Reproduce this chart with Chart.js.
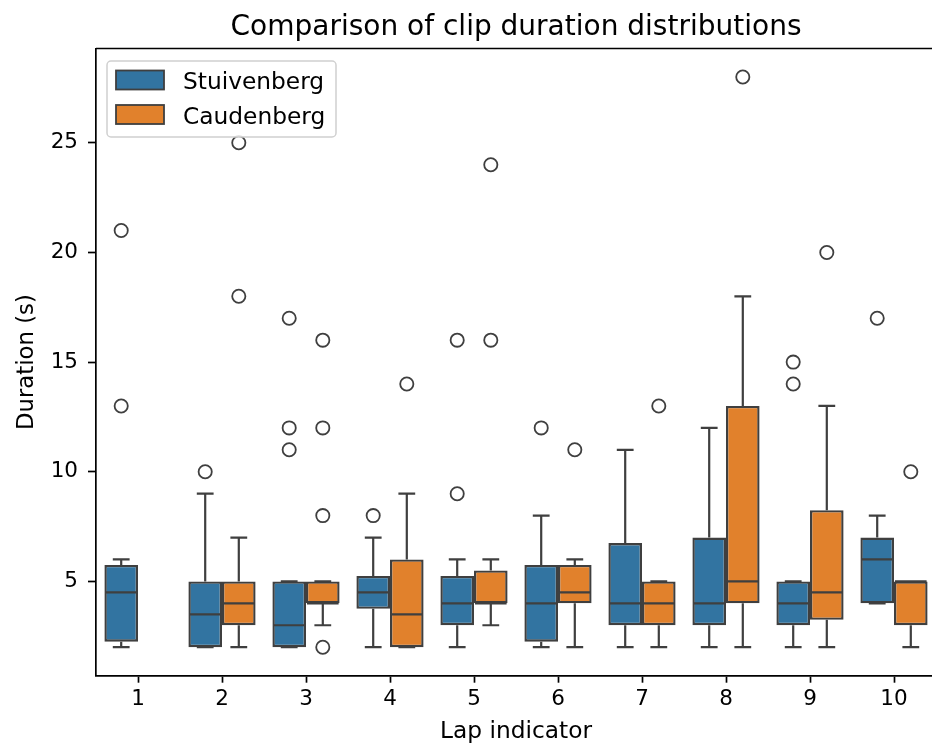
<!DOCTYPE html>
<html>
<head>
<meta charset="utf-8">
<script src="https://cdn.jsdelivr.net/npm/chart.js@4.4.1/dist/chart.umd.min.js"></script>
<style>
  html, body { margin: 0; padding: 0; overflow: hidden; background: #fff; }
  #wrap { width: 936px; height: 746px; }
</style>
</head>
<body>
<div id="wrap"><canvas id="chart" width="936" height="746"></canvas></div>
<script>
// Lap categories and tick values
const laps = ['1', '2', '3', '4', '5', '6', '7', '8', '9', '10'];
const yTicks = [5, 10, 15, 20, 25];

// Stuivenberg box stats
const stuivQ1     = [2.25, 2,   2, 3.75, 3,    2.25, 3,    3,  3, 4];
const stuivMedian = [4.5,  3.5, 3, 4.5,  4,    4,    4,    4,  4, 6];
const stuivQ3     = [5.75, 5,   5, 5.25, 5.25, 5.75, 6.75, 7,  5, 7];
const stuivLow    = [2,    2,   2, 2,    2,    2,    2,    2,  2, 4];
const stuivHigh   = [6,    9,   5, 7,    6,    8,    11,   12, 5, 8];
const stuivOutliers = [[13, 21], [10], [11, 12, 17], [8], [9, 16], [12], [], [], [14, 15], [17]];

// Caudenberg box stats (no data for lap 1)
const caudQ1     = [null, 3, 4, 2,   4,   4,    3, 4,  3.25, 3];
const caudMedian = [null, 4, 4, 3.5, 4,   4.5,  4, 5,  4.5,  5];
const caudQ3     = [null, 5, 5, 6,   5.5, 5.75, 5, 13, 8.25, 5];
const caudLow    = [null, 2, 3, 2,   3,   2,    2, 2,  2,    2];
const caudHigh   = [null, 7, 5, 9,   6,   6,    5, 18, 13,   5];
const caudOutliers = [[], [18, 25], [2, 8, 12, 16], [14], [16, 24], [11], [13], [28], [20], [10]];

const lineColor = '#3F3F3F';
const fontFamily = "'DejaVu Sans', sans-serif";

// whiskers, medians, fliers on top of the floating bars
const boxExtras = {
  id: 'boxExtras',
  afterDatasetsDraw(chart) {
    const ctx = chart.ctx;
    const yScale = chart.scales.y;
    ctx.save();
    ctx.strokeStyle = lineColor;
    chart.data.datasets.forEach((ds, di) => {
      const meta = chart.getDatasetMeta(di);
      const st = ds.stats;
      meta.data.forEach((bar, i) => {
        if (st.median[i] == null) return;
        const { x, width } = bar.getProps(['x', 'width'], true);
        const left = x - width / 2, right = x + width / 2;
        const cap = width / 4;
        const yq1 = yScale.getPixelForValue(st.q1[i]);
        const yq3 = yScale.getPixelForValue(st.q3[i]);
        const ylo = yScale.getPixelForValue(st.low[i]);
        const yhi = yScale.getPixelForValue(st.high[i]);
        const ymed = yScale.getPixelForValue(st.median[i]);

        ctx.lineWidth = 2.2;
        ctx.beginPath();
        // whiskers
        ctx.moveTo(x, yq3); ctx.lineTo(x, yhi);
        ctx.moveTo(x, yq1); ctx.lineTo(x, ylo);
        // caps
        ctx.moveTo(x - cap, yhi); ctx.lineTo(x + cap, yhi);
        ctx.moveTo(x - cap, ylo); ctx.lineTo(x + cap, ylo);
        // median
        ctx.moveTo(left + 1, ymed); ctx.lineTo(right - 1, ymed);
        ctx.stroke();

        // outliers
        ctx.lineWidth = 1.8;
        st.outliers[i].forEach(v => {
          ctx.beginPath();
          ctx.arc(x, yScale.getPixelForValue(v), 6.6, 0, Math.PI * 2);
          ctx.stroke();
        });
      });
    });
    ctx.restore();
  },
  afterDraw(chart) {
    const ctx = chart.ctx;
    const area = chart.chartArea;
    ctx.save();
    // top spine
    ctx.strokeStyle = '#000';
    ctx.lineWidth = 1.7;
    ctx.beginPath();
    ctx.moveTo(area.left, area.top);
    ctx.lineTo(area.right, area.top);
    ctx.stroke();

    // title centred on the plot area
    ctx.fillStyle = '#000';
    ctx.font = '28px ' + fontFamily;
    ctx.textAlign = 'center';
    ctx.textBaseline = 'alphabetic';
    ctx.fillText('Comparison of clip duration distributions', (area.left + area.right) / 2, 35);

    // legend inside the axes, upper left
    ctx.beginPath();
    ctx.roundRect(107, 61, 229, 76, 4);
    ctx.fillStyle = 'rgba(255,255,255,0.8)';
    ctx.fill();
    ctx.strokeStyle = '#d0d0d0';
    ctx.lineWidth = 1.5;
    ctx.stroke();

    ctx.font = '23.3px ' + fontFamily;
    ctx.textAlign = 'left';
    chart.data.datasets.forEach((ds, di) => {
      const top = 70.5 + di * 34.5;
      ctx.fillStyle = ds.backgroundColor;
      ctx.fillRect(116, top, 48, 19);
      ctx.strokeStyle = lineColor;
      ctx.lineWidth = 1.8;
      ctx.strokeRect(116, top, 48, 19);
      ctx.fillStyle = '#000';
      ctx.fillText(ds.label, 183, top + 18.5);
    });
    ctx.restore();
  }
};

function makeDataset(label, color, q1, median, q3, low, high, outliers) {
  return {
    label: label,
    data: q1.map((v, i) => v == null ? null : [v, q3[i]]),
    backgroundColor: color,
    borderColor: lineColor,
    borderWidth: 2.4,
    borderSkipped: false,
    categoryPercentage: 0.8,
    barPercentage: 1.0,
    stats: { q1: q1, median: median, q3: q3, low: low, high: high, outliers: outliers }
  };
}

new Chart(document.getElementById('chart'), {
  type: 'bar',
  data: {
    labels: laps,
    datasets: [
      makeDataset('Stuivenberg', '#3274A1', stuivQ1, stuivMedian, stuivQ3, stuivLow, stuivHigh, stuivOutliers),
      makeDataset('Caudenberg', '#E1812C', caudQ1, caudMedian, caudQ3, caudLow, caudHigh, caudOutliers)
    ]
  },
  options: {
    responsive: false,
    devicePixelRatio: 1,
    animation: false,
    layout: { padding: { top: 48.5, left: 0, right: 0, bottom: 0 } },
    plugins: {
      legend: { display: false },
      title: { display: false },
      tooltip: { enabled: false }
    },
    scales: {
      x: {
        offset: true,
        afterFit: scale => { scale.height = 70.3; },
        grid: { offset: false, drawOnChartArea: false, tickLength: 7, tickWidth: 1.7, color: '#000' },
        border: { color: '#000', width: 1.7 },
        ticks: { color: '#000', font: { family: fontFamily, size: 21.5 }, padding: 4 },
        title: {
          display: true, text: 'Lap indicator', color: '#000',
          font: { family: fontFamily, size: 23.3 }, padding: { top: 0, bottom: 0 }
        }
      },
      y: {
        min: 0.7,
        max: 29.3,
        afterFit: scale => { scale.width = 96; },
        afterBuildTicks: scale => { scale.ticks = yTicks.map(v => ({ value: v })); },
        grid: { drawOnChartArea: false, tickLength: 8, tickWidth: 1.7, color: '#000' },
        border: { color: '#000', width: 1.7 },
        ticks: { color: '#000', font: { family: fontFamily, size: 21.5 }, padding: 10 },
        title: {
          display: true, text: 'Duration (s)', color: '#000',
          font: { family: fontFamily, size: 22.8 }, padding: { top: 13, bottom: 0 }
        }
      }
    }
  },
  plugins: [boxExtras]
});
</script>
</body>
</html>
